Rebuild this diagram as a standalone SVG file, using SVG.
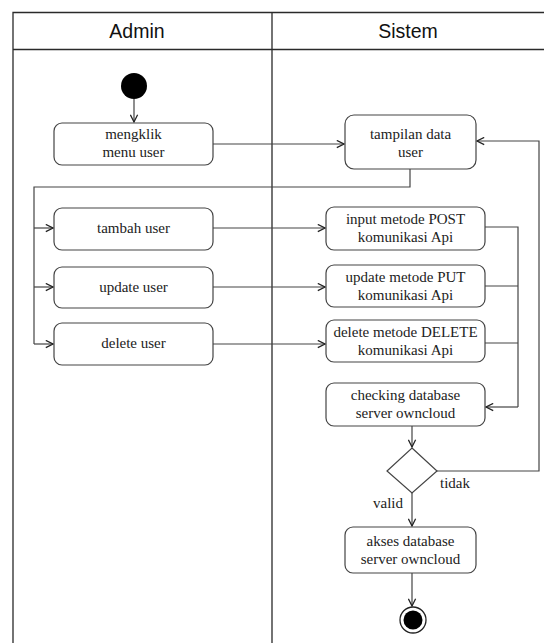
<svg xmlns="http://www.w3.org/2000/svg" width="544" height="643" viewBox="0 0 544 643">
  <defs>
    <style>
      .lane { fill: none; stroke: #2a2a2a; stroke-width: 1.3; }
      .head { font-family: "Liberation Sans", Arial, sans-serif; font-size: 19.5px; fill: #111; text-anchor: middle; }
      .act { fill: #fff; stroke: #444; stroke-width: 1.2; }
      .lbl { font-family: "Liberation Serif", "Times New Roman", serif; font-size: 15px; fill: #222; text-anchor: middle; }
      .edge { fill: none; stroke: #444; stroke-width: 1.2; }
      .guard { font-family: "Liberation Serif", "Times New Roman", serif; font-size: 15px; fill: #222; }
    </style>
    <marker id="arrow" viewBox="0 0 10 10" refX="9" refY="5" markerWidth="9" markerHeight="9" markerUnits="userSpaceOnUse" orient="auto">
      <path d="M1,1 L9,5 L1,9" fill="none" stroke="#222" stroke-width="1.4"/>
    </marker>
  </defs>
  <rect x="0" y="0" width="544" height="643" fill="#fff"/>

  <!-- swimlanes -->
  <g id="lanes">
    <path class="lane" d="M13,643 V12.5 H544 M13,49.5 H544 M272,12.5 V643"/>
    <text class="head" x="137" y="38">Admin</text>
    <text class="head" x="408" y="38">Sistem</text>
  </g>

  <!-- connectors -->
  <g id="connectors">
    <path class="edge" d="M134,99 V122" marker-end="url(#arrow)"/>
    <path class="edge" d="M213,144 H344" marker-end="url(#arrow)"/>
    <path class="edge" d="M410,169 V187 H34 V344"/>
    <path class="edge" d="M34,228 H53" marker-end="url(#arrow)"/>
    <path class="edge" d="M34,287 H53" marker-end="url(#arrow)"/>
    <path class="edge" d="M34,344 H53" marker-end="url(#arrow)"/>
    <path class="edge" d="M213,228 H325" marker-end="url(#arrow)"/>
    <path class="edge" d="M213,287 H325" marker-end="url(#arrow)"/>
    <path class="edge" d="M213,344 H325" marker-end="url(#arrow)"/>
    <path class="edge" d="M485,227 H518 V407"/>
    <path class="edge" d="M485,286 H518"/>
    <path class="edge" d="M485,343 H518"/>
    <path class="edge" d="M518,407 H486" marker-end="url(#arrow)"/>
    <path class="edge" d="M412,426 V447" marker-end="url(#arrow)"/>
    <path class="edge" d="M437,471 H539 V141 H477" marker-end="url(#arrow)"/>
    <path class="edge" d="M412,493 V526" marker-end="url(#arrow)"/>
    <path class="edge" d="M412,573 V606" marker-end="url(#arrow)"/>
    <text class="guard" x="440" y="488">tidak</text>
    <text class="guard" x="373" y="508">valid</text>
  </g>

  <!-- nodes -->
  <g id="start">
    <circle cx="134" cy="86" r="13" fill="#000"/>
  </g>
  <g id="mengklik-menu-user">
    <rect class="act" x="54" y="123" width="159" height="42" rx="8"/>
    <text class="lbl" x="133.5" y="139">mengklik</text>
    <text class="lbl" x="133.5" y="157">menu user</text>
  </g>
  <g id="tampilan-data-user">
    <rect class="act" x="345" y="115" width="131" height="54" rx="9"/>
    <text class="lbl" x="410.5" y="139">tampilan data</text>
    <text class="lbl" x="410.5" y="157">user</text>
  </g>
  <g id="tambah-user">
    <rect class="act" x="54" y="208" width="159" height="42" rx="8"/>
    <text class="lbl" x="133.5" y="233">tambah user</text>
  </g>
  <g id="update-user">
    <rect class="act" x="54" y="267" width="159" height="41" rx="8"/>
    <text class="lbl" x="133.5" y="292">update user</text>
  </g>
  <g id="delete-user">
    <rect class="act" x="54" y="323" width="159" height="42" rx="8"/>
    <text class="lbl" x="133.5" y="348">delete user</text>
  </g>
  <g id="input-post">
    <rect class="act" x="326" y="207" width="159" height="43" rx="8"/>
    <text class="lbl" x="405.5" y="224">input metode POST</text>
    <text class="lbl" x="405.5" y="242">komunikasi Api</text>
  </g>
  <g id="update-put">
    <rect class="act" x="326" y="265" width="159" height="42" rx="8"/>
    <text class="lbl" x="405.5" y="282">update metode PUT</text>
    <text class="lbl" x="405.5" y="300">komunikasi Api</text>
  </g>
  <g id="delete-delete">
    <rect class="act" x="326" y="320" width="159" height="42" rx="8"/>
    <text class="lbl" x="405.5" y="337">delete metode DELETE</text>
    <text class="lbl" x="405.5" y="355">komunikasi Api</text>
  </g>
  <g id="checking-database">
    <rect class="act" x="326" y="383" width="159" height="43" rx="8"/>
    <text class="lbl" x="405.5" y="400">checking database</text>
    <text class="lbl" x="405.5" y="418">server owncloud</text>
  </g>
  <g id="decision">
    <polygon class="act" points="412,448 437,471 412,493 387,471"/>
  </g>
  <g id="akses-database">
    <rect class="act" x="345" y="527" width="131" height="46" rx="8"/>
    <text class="lbl" x="410.5" y="546">akses database</text>
    <text class="lbl" x="410.5" y="564">server owncloud</text>
  </g>
  <g id="end">
    <circle cx="413" cy="620" r="13" fill="#fff" stroke="#222" stroke-width="1.3"/>
    <circle cx="413" cy="620" r="9.5" fill="#000"/>
  </g>
</svg>
